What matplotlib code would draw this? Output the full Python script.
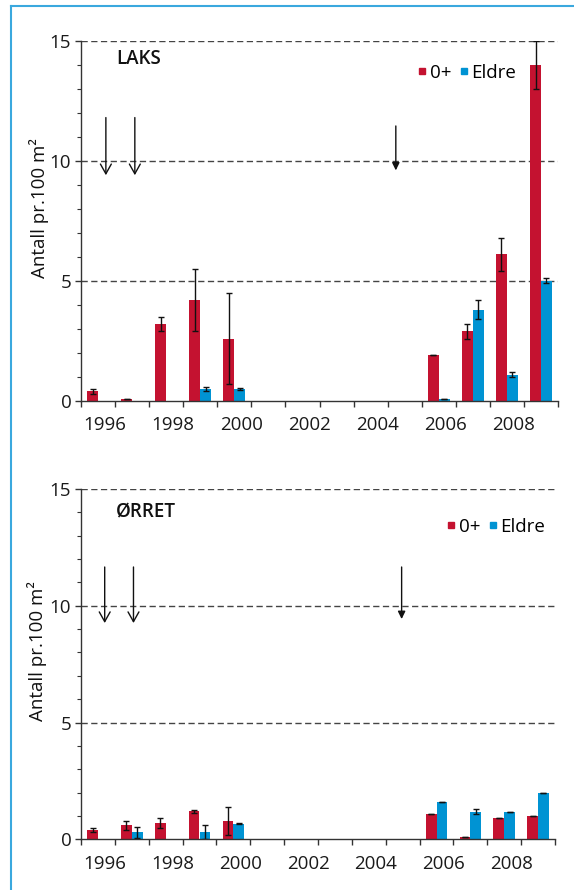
import numpy as np
import matplotlib
matplotlib.use("Agg")
import matplotlib.pyplot as plt
import matplotlib.transforms as mtransforms
from matplotlib.lines import Line2D

plt.rcParams['font.family'] = ['Open Sans', 'DejaVu Sans']

years = list(range(1996, 2010))
tick_years = [1996, 1998, 2000, 2002, 2004, 2006, 2008]

# LAKS
laks_0 = [0.4, 0.1, 3.2, 4.2, 2.6, 0, 0, 0, 0, 0, 1.9, 2.9, 6.1, 14.0]
laks_0_err = [0.12, 0.0, 0.3, 1.3, 1.9, 0, 0, 0, 0, 0, 0.0, 0.3, 0.7, 1.0]
laks_e = [0.0, 0.0, 0.0, 0.5, 0.5, 0, 0, 0, 0, 0, 0.08, 3.8, 1.1, 5.0]
laks_e_err = [0.0, 0.0, 0.0, 0.1, 0.03, 0, 0, 0, 0, 0, 0.0, 0.4, 0.1, 0.1]

# ØRRET
orr_0 = [0.4, 0.6, 0.7, 1.2, 0.8, 0, 0, 0, 0, 0, 1.1, 0.09, 0.9, 1.0]
orr_0_err = [0.1, 0.2, 0.2, 0.07, 0.6, 0, 0, 0, 0, 0, 0.0, 0.0, 0.0, 0.0]
orr_e = [0.0, 0.3, 0.0, 0.3, 0.67, 0, 0, 0, 0, 0, 1.58, 1.18, 1.18, 2.0]
orr_e_err = [0.0, 0.23, 0.0, 0.3, 0.02, 0, 0, 0, 0, 0, 0.0, 0.1, 0.0, 0.0]

# arrow markers (x in year-category units, y top -> tip)
laks_arrows = [(0.73, 11.8, 9.4, 'open'), (1.58, 11.8, 9.4, 'open'), (9.24, 11.45, 9.6, 'small')]
orr_arrows = [(0.70, 11.66, 9.26, 'open'), (1.55, 11.66, 9.26, 'open'), (9.47, 11.66, 9.43, 'small')]

RED = '#C41230'
BLUE = '#0093D3'
DARK = '#333333'

W, H = 574, 890
fig = plt.figure(figsize=(W / 100, H / 100), dpi=100)


def fx(px):
    return px / W


def fy(py):
    return 1 - py / H


def draw_err(ax, xs, vals, errs):
    xs = np.asarray(xs)
    vals = np.asarray(vals, dtype=float)
    errs = np.asarray(errs, dtype=float)
    m = vals > 0
    ax.errorbar(xs[m], vals[m], yerr=errs[m], fmt='none', ecolor='#111111',
                elinewidth=1.0, capsize=2.5, capthick=1.0, zorder=4)


def panel(left, right, ybot, ytop, v0, e0, v1, e1, title, title_xy, arrows, leg_xy, ylab_xy):
    ax = fig.add_axes([fx(left), fy(ybot), fx(right) - fx(left), fy(ytop) - fy(ybot)])
    n = len(years)
    x = np.arange(n) + 0.5
    w = 0.32
    ax.bar(x - w / 2, v0, w, color=RED, zorder=3)
    ax.bar(x + w / 2, v1, w, color=BLUE, zorder=3)
    draw_err(ax, x - w / 2, v0, e0)
    draw_err(ax, x + w / 2, v1, e1)
    ax.set_xlim(0, n)
    ax.set_ylim(0, 15)
    for s in ['top', 'right']:
        ax.spines[s].set_visible(False)
    for s in ['left', 'bottom']:
        ax.spines[s].set_color(DARK)
        ax.spines[s].set_linewidth(1.0)
        ax.spines[s].set_zorder(5)
    ax.set_yticks([0, 5, 10, 15])
    ax.set_yticks(np.arange(0, 16, 1), minor=True)
    ax.tick_params(axis='y', which='major', direction='out', length=4, width=1, color=DARK,
                   labelsize=13.5, pad=3, labelcolor='#1a1a1a')
    ax.tick_params(axis='y', which='minor', direction='out', length=3, width=0.8, color=DARK)
    ax.set_xticks(np.arange(0, n + 1))
    ax.set_xticklabels([])
    ax.set_xticks([years.index(t) + 0.5 for t in tick_years], minor=True)
    ax.set_xticklabels([str(t) for t in tick_years], minor=True)
    ax.tick_params(axis='x', which='major', direction='out', length=4, width=1, color=DARK)
    ax.tick_params(axis='x', which='minor', length=0, labelsize=13.5, pad=11, labelcolor='#1a1a1a')
    off = mtransforms.ScaledTranslation(7 / 100, 0, fig.dpi_scale_trans)
    for lab in ax.get_xticklabels(minor=True):
        lab.set_transform(lab.get_transform() + off)
    for yv in [5, 10, 15]:
        ax.axhline(yv, color='#444444', lw=1.0, ls=(0, (4.5, 2.5)), zorder=1)
    for (xa, yt, yb, kind) in arrows:
        if kind == 'open':
            st = '->,head_length=0.5,head_width=0.28'
            ms = 14
        else:
            st = '-|>,head_length=0.45,head_width=0.22'
            ms = 10
        ax.annotate('', xy=(xa, yb), xytext=(xa, yt),
                    arrowprops=dict(arrowstyle=st, mutation_scale=ms, color='#111111', lw=1.0,
                                    shrinkA=0, shrinkB=0))
    fig.text(fx(title_xy[0]), fy(title_xy[1]), title, fontsize=13.5, fontweight='semibold',
             ha='center', va='center', color='#111111')
    handles = [Line2D([], [], marker='s', ls='none', color=RED, markersize=5),
               Line2D([], [], marker='s', ls='none', color=BLUE, markersize=5)]
    fig.legend(handles, ['0+', 'Eldre'], loc='center right', bbox_to_anchor=(fx(leg_xy[0]), fy(leg_xy[1])),
               ncol=2, frameon=False, fontsize=13.5, handlelength=0.5, handletextpad=0.15,
               columnspacing=0.4, borderpad=0, borderaxespad=0)
    fig.text(fx(ylab_xy[0]), fy(ylab_xy[1]), 'Antall pr.100 m²', rotation=90, fontsize=13.5,
             ha='center', va='center', color='#111111')
    return ax


panel(81, 558, 401, 40.7, laks_0, laks_0_err, laks_e, laks_e_err, 'LAKS', (139, 59.5),
      laks_arrows, (516, 73), (39, 208.5))
panel(81, 555, 839.3, 489, orr_0, orr_0_err, orr_e, orr_e_err, 'ØRRET', (146, 512.5),
      orr_arrows, (545, 527), (37, 651))

# light blue frame (left and top)
fig.add_artist(Line2D([fx(11), fx(11)], [fy(6), 0], color='#3AA8DE', lw=1.5))
fig.add_artist(Line2D([fx(11), 1], [fy(6), fy(6)], color='#3AA8DE', lw=1.5))

fig.savefig('out.png', dpi=100)
